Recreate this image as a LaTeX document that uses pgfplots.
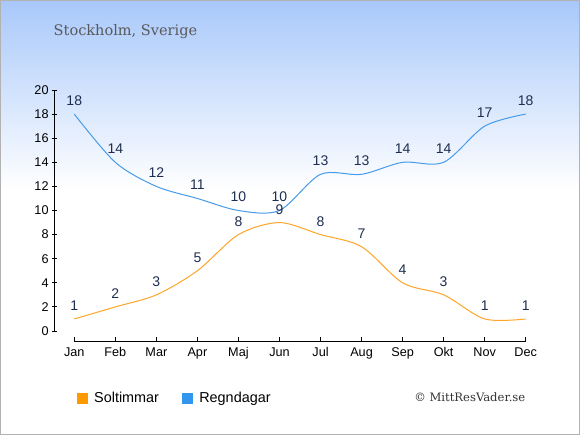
\documentclass[border=0pt]{standalone}
\usepackage{pgfplots}
\pgfplotsset{compat=1.18}
\usepackage{fontspec}
\setmainfont{Liberation Sans}
\newfontfamily\serifttl{DejaVu Serif}
\definecolor{bgtop}{RGB}{168,200,250}
\definecolor{orangeline}{RGB}{255,165,40}
\definecolor{blueline}{RGB}{70,155,235}
\definecolor{orangesq}{RGB}{255,153,0}
\definecolor{bluesq}{RGB}{51,150,238}
\definecolor{lblcol}{RGB}{30,45,80}
\begin{document}
\begin{tikzpicture}
\begin{scope}[x=0.75pt,y=-0.75pt]
\path[use as bounding box] (0,0) rectangle (580,435);
\fill[white] (0,0) rectangle (580,435);
\shade[top color=bgtop, bottom color=white] (0,0) rectangle (580,190);
\draw[gray!60, line width=0.75pt] (0.5,0.5) rectangle (579.5,434.5);
\node[anchor=west, text=black!65, font=\serifttl\fontsize{10.9}{12}\selectfont] at (49,32) {Stockholm, Sverige};
\node[anchor=east, text=black!80, font=\serifttl\fontsize{8.7}{10}\selectfont] at (530,397) {\copyright\ MittResVader.se};
\end{scope}
\begin{axis}[
  at={(40.725pt,-255.975pt)}, anchor=south west,
  scale only axis, width=353.55pt, height=188.475pt,
  xmin=-0.487, xmax=11, ymin=-0.855, ymax=20,
  clip=false,
  axis line style={draw=none},
  xtick={0,...,11},
  xticklabels={Jan,Feb,Mar,Apr,Maj,Jun,Jul,Aug,Sep,Okt,Nov,Dec},
  ytick={0,2,...,20},
  xtick pos=bottom, ytick pos=left,
  xtick align=inside, ytick align=center,
  major tick length=3.5pt,
  x tick style={black, line width=0.75pt},
  y tick style={black, line width=0.75pt},
  tick label style={font=\fontsize{9.5}{11}\selectfont, text=black},
  /pgf/number format/assume math mode=true,
  yticklabel style={xshift=1pt},
  xticklabel style={yshift=-1.2pt},
  nodes near coords,
  every node near coord/.append style={anchor=center, yshift=10pt, font=\fontsize{10.5}{12}\selectfont, text=lblcol},
  legend style={at={(0.048,-0.2256)}, anchor=west, draw=none, fill=none, legend columns=2,
    font=\fontsize{10.8}{12}\selectfont, inner sep=0pt,
    /tikz/every even column/.append style={column sep=15.5pt}},
  legend cell align=left,
]
\draw[black, line width=0.75pt] (axis cs:0,-0.855) -- (axis cs:11,-0.855);
\draw[black, line width=0.75pt] (axis cs:-0.487,0) -- (axis cs:-0.487,20);
\addplot[orangeline, line width=0.75pt, smooth, mark=none,
  legend image code/.code={\fill[orangesq] (0pt,-3.75pt) rectangle (7.5pt,3.75pt); \path (10pt,0pt);}]
  coordinates {(0,1)(1,2)(2,3)(3,5)(4,8)(5,9)(6,8)(7,7)(8,4)(9,3)(10,1)(11,1)};
\addlegendentry{Soltimmar}
\addplot[blueline, line width=0.75pt, smooth, mark=none,
  legend image code/.code={\fill[bluesq] (0pt,-3.75pt) rectangle (7.5pt,3.75pt); \path (10pt,0pt);}]
  coordinates {(0,18)(1,14)(2,12)(3,11)(4,10)(5,10)(6,13)(7,13)(8,14)(9,14)(10,17)(11,18)};
\addlegendentry{Regndagar}
\end{axis}
\end{tikzpicture}
\end{document}
